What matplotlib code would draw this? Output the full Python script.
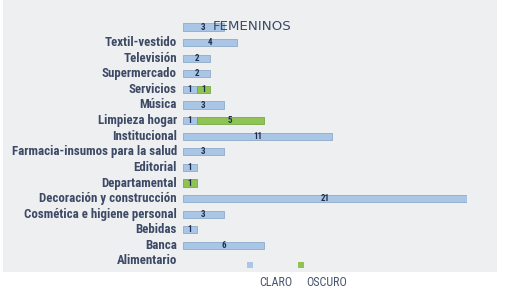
import matplotlib
matplotlib.use("Agg")
import matplotlib.pyplot as plt
from matplotlib.patches import Rectangle
from matplotlib import font_manager

categories = ["", "Textil-vestido", "Televisión", "Supermercado", "Servicios", "Música",
              "Limpieza hogar", "Institucional", "Farmacia-insumos para la salud", "Editorial",
              "Departamental", "Decoración y construcción", "Cosmética e higiene personal",
              "Bebidas", "Banca", "Alimentario"]
claro = [3, 4, 2, 2, 1, 3, 1, 11, 3, 1, 0, 21, 3, 1, 6, 0]
oscuro = [0, 0, 0, 0, 1, 0, 5, 0, 0, 0, 1, 0, 0, 0, 0, 0]
series_names = ["CLARO", "OSCURO"]
title = "FEMENINOS"

names = {f.name for f in font_manager.fontManager.ttflist}
narrow = "DejaVu Sans"
for cand in ["Liberation Sans Narrow", "Arial Narrow", "Roboto Condensed", "Archivo Narrow",
             "Barlow Condensed"]:
    if cand in names:
        narrow = cand
        break

W, H = 505, 289
fig = plt.figure(figsize=(W / 100, H / 100), dpi=100)
fig.patch.set_facecolor("white")
fig.patches.append(Rectangle((3 / W, 1 - 272 / H), 494 / W, 272 / H, transform=fig.transFigure,
                             facecolor="#eeeff1", edgecolor="none", zorder=-10))

c_claro = "#a9c6e6"
c_osc = "#8fc454"
txt = "#3c4a66"

n = len(categories)
top_px, bot_px = 27 - 7.8, 261 + 7.8
ax = fig.add_axes([183 / W, 1 - bot_px / H, 284 / W, (bot_px - top_px) / H])
ax.set_zorder(1)
ax.set_facecolor("none")
ax.set_xlim(0, 21)
ax.set_ylim(n - 0.5, -0.5)

yc = [i for i in range(n) if claro[i] > 0]
ax.barh(yc, [claro[i] for i in yc], height=0.45, color=c_claro, edgecolor="#8fa9c8",
        linewidth=0.6)
yo = [i for i in range(n) if oscuro[i] > 0]
ax.barh(yo, [oscuro[i] for i in yo], left=[claro[i] for i in yo], height=0.45, color=c_osc,
        edgecolor="#78a844", linewidth=0.6)
for i in range(n):
    if claro[i]:
        ax.text(claro[i] / 2, i, str(claro[i]), ha="center", va="center", fontsize=6.5,
                color="#1f2d4a", family=narrow, fontweight="bold")
    if oscuro[i]:
        ax.text(claro[i] + oscuro[i] / 2, i, str(oscuro[i]), ha="center", va="center",
                fontsize=6.5, color="#1f2d4a", family=narrow, fontweight="bold")
    ax.text(-0.45, i, categories[i], ha="right", va="center", fontsize=9.3, color=txt,
            family=narrow, fontweight="bold", clip_on=False)
for s in ax.spines.values():
    s.set_visible(False)
ax.set_xticks([])
ax.set_yticks([])

fig.text(213 / W, 1 - 27 / H, title, ha="left", va="center", fontsize=9.6, color=txt,
         family="DejaVu Sans", zorder=5)

fig.patches.append(Rectangle((247 / W, 1 - 268 / H), 6 / W, 6 / H, transform=fig.transFigure,
                             facecolor=c_claro, edgecolor="none"))
fig.patches.append(Rectangle((298 / W, 1 - 268 / H), 6 / W, 6 / H, transform=fig.transFigure,
                             facecolor=c_osc, edgecolor="none"))
fig.text(276 / W, 1 - 282 / H, series_names[0], ha="center", va="center", fontsize=8.7,
         color="#4a5570", family=narrow)
fig.text(327 / W, 1 - 282 / H, series_names[1], ha="center", va="center", fontsize=8.7,
         color="#4a5570", family=narrow)

fig.savefig("out.png", dpi=100, facecolor="white")
